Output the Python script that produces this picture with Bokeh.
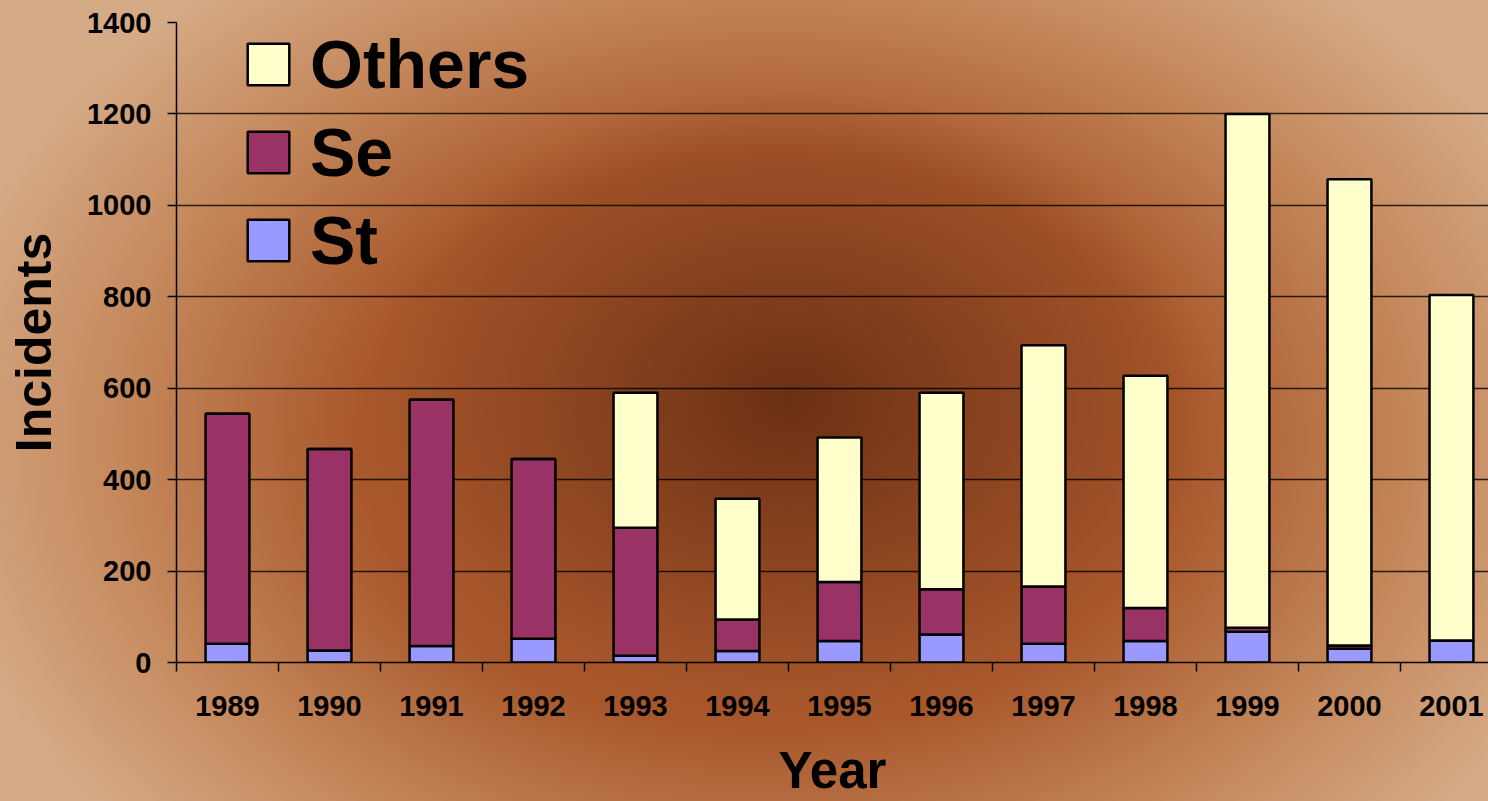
from bokeh.plotting import figure
from bokeh.models import (ColumnDataSource, Range1d, FixedTicker, Legend, LegendItem)
from bokeh.embed import file_html
from bokeh.resources import INLINE

# Incidents per year, split by type
years = ["1989", "1990", "1991", "1992", "1993", "1994", "1995",
         "1996", "1997", "1998", "1999", "2000", "2001"]
st = [41, 26, 36, 52, 15, 25, 47, 61, 41, 47, 67, 30, 48]
se = [503, 441, 539, 393, 280, 69, 129, 99, 125, 72, 9, 7, 0]
others = [0, 0, 0, 0, 295, 264, 316, 430, 528, 508, 1124, 1020, 756]
y_ticks = [0, 200, 400, 600, 800, 1000, 1200, 1400]

series = ["St", "Se", "Others"]
colors = ["#9999ff", "#993366", "#ffffcc"]

centers = [i + 0.5 for i in range(len(years))]
source = ColumnDataSource(dict(x=centers, St=st, Se=se, Others=others))

FONT = "Liberation Sans"

p = figure(width=1488, height=801, output_backend="svg", toolbar_location=None,
           x_range=Range1d(0, 12.863), y_range=Range1d(0, 1400),
           min_border_left=176, min_border_right=0, min_border_top=22,
           min_border_bottom=138,
           background_fill_color=None, border_fill_color=None,
           outline_line_color=None,
           styles={
               "background-image":
                   "radial-gradient(ellipse 420px 310px at 790px 400px, "
                   "rgba(98,42,16,0.85) 0%, rgba(98,42,16,0.45) 45%, rgba(98,42,16,0) 100%), "
                   "radial-gradient(ellipse 850px 600px at 770px 440px, "
                   "#a4522a 0%, #a8572b 48%, #c4875a 76%, #d5aa86 100%)",
           })

renderers = p.vbar_stack(series, x="x", width=0.43, source=source,
                         fill_color=colors, line_color="black", line_width=2.5)

# Legend, listed top to bottom as Others, Se, St
items = [LegendItem(label=name, renderers=[r])
         for name, r in zip(reversed(series), reversed(renderers))]
legend = Legend(items=items, location=(66, 383),
                margin=0, padding=0, spacing=10,
                glyph_width=52, glyph_height=52, label_standoff=16,
                label_text_font=FONT, label_text_font_style="bold",
                label_text_font_size="68px", label_text_color="black",
                background_fill_alpha=0, border_line_alpha=0)
p.add_layout(legend, "center")

# Y axis
p.yaxis.ticker = FixedTicker(ticks=y_ticks)
p.yaxis.axis_label = "Incidents"
p.yaxis.axis_label_text_font = FONT
p.yaxis.axis_label_text_font_style = "bold"
p.yaxis.axis_label_text_font_size = "50px"
p.yaxis.axis_label_text_color = "black"
p.yaxis.axis_label_standoff = 22
p.yaxis.major_label_text_font = FONT
p.yaxis.major_label_text_font_style = "bold"
p.yaxis.major_label_text_font_size = "29px"
p.yaxis.major_label_text_color = "black"
p.yaxis.major_label_standoff = 16
p.yaxis.major_tick_out = 9
p.yaxis.major_tick_in = 0
p.yaxis.minor_tick_out = 0
p.yaxis.minor_tick_in = 0
p.yaxis.axis_line_color = "black"
p.yaxis.axis_line_width = 1.5
p.yaxis.major_tick_line_color = "black"
p.yaxis.major_tick_line_width = 1.5

# X axis: labels at bar centres, tick marks between categories
p.xaxis.ticker = FixedTicker(ticks=centers, minor_ticks=list(range(len(years) + 1)))
p.xaxis.major_label_overrides = {c: y for c, y in zip(centers, years)}
p.xaxis.axis_label = "Year"
p.xaxis.axis_label_text_font = FONT
p.xaxis.axis_label_text_font_style = "bold"
p.xaxis.axis_label_text_font_size = "51px"
p.xaxis.axis_label_text_color = "black"
p.xaxis.axis_label_standoff = 23
p.xaxis.major_label_text_font = FONT
p.xaxis.major_label_text_font_style = "bold"
p.xaxis.major_label_text_font_size = "29px"
p.xaxis.major_label_text_color = "black"
p.xaxis.major_label_standoff = 24
p.xaxis.major_tick_out = 0
p.xaxis.major_tick_in = 0
p.xaxis.minor_tick_out = 9
p.xaxis.minor_tick_in = 0
p.xaxis.minor_tick_line_color = "black"
p.xaxis.minor_tick_line_width = 1.5
p.xaxis.axis_line_color = "black"
p.xaxis.axis_line_width = 1.5

p.xgrid.grid_line_color = None
p.ygrid.grid_line_color = "black"
p.ygrid.grid_line_alpha = 0.8
p.ygrid.grid_line_width = 1.5

open("out.html", "w").write(file_html(p, INLINE))
